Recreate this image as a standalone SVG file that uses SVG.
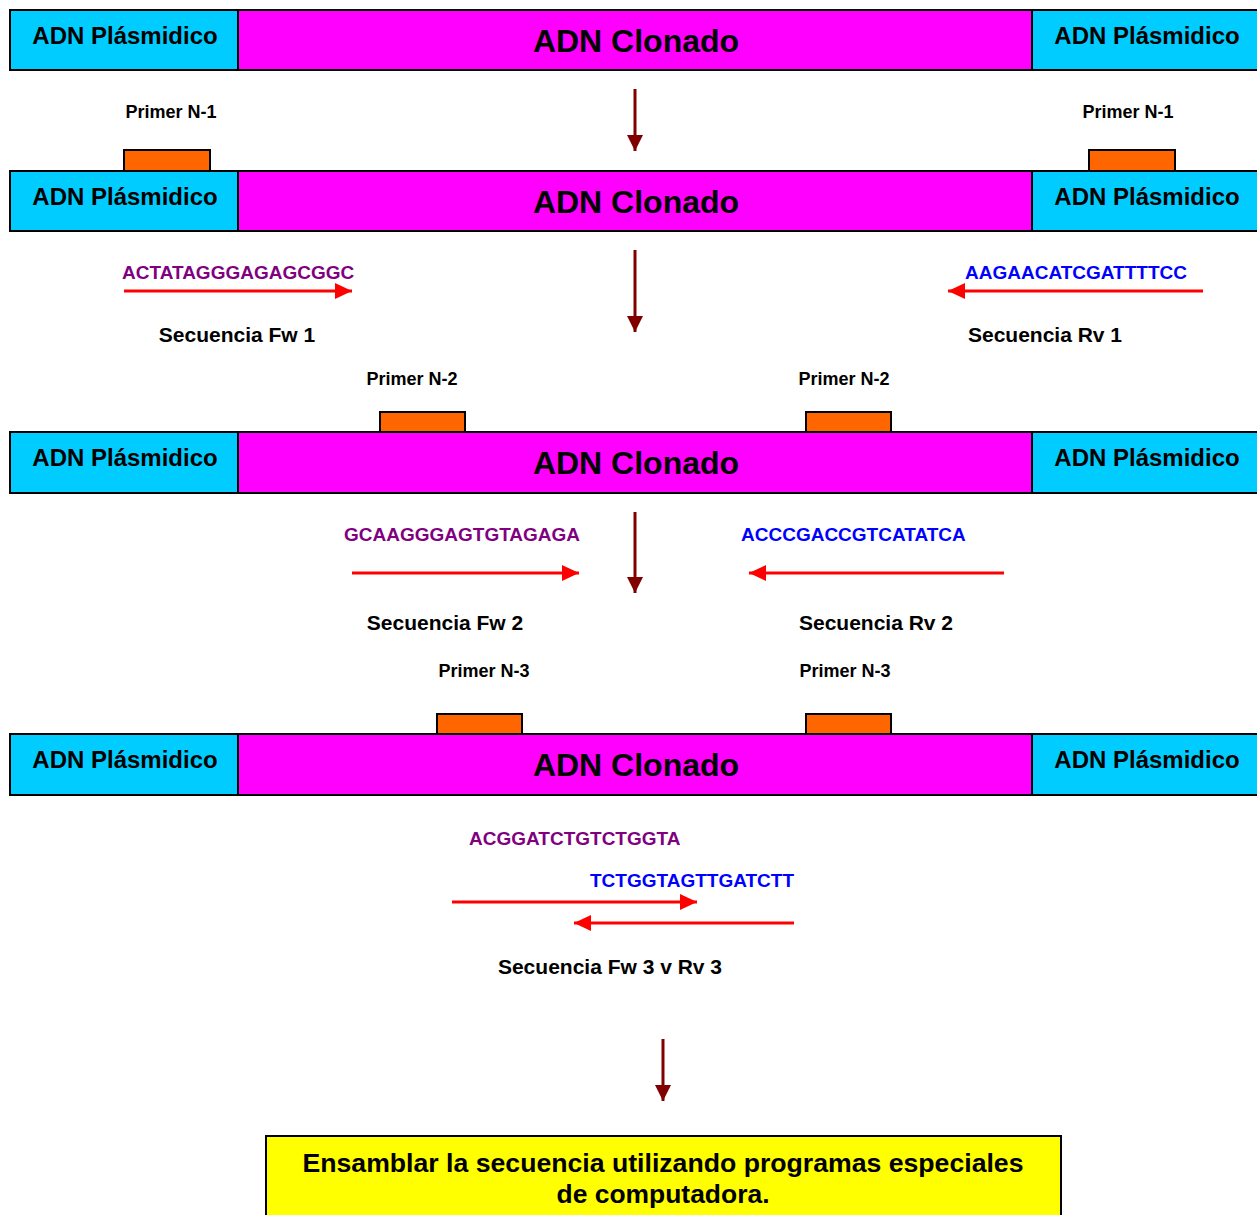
<svg xmlns="http://www.w3.org/2000/svg" width="1257" height="1215" viewBox="0 0 1257 1215">
<style>
.pl{fill:#00CCFF;stroke:#000;stroke-width:2}
.cl{fill:#FF00FF;stroke:#000;stroke-width:2}
.pr{fill:#FF6600;stroke:#000;stroke-width:2}
.tp{font-family:"Liberation Sans",Arial,sans-serif;font-weight:bold;font-size:24px;text-anchor:middle;fill:#000}
.tc{font-family:"Liberation Sans",Arial,sans-serif;font-weight:bold;font-size:32px;text-anchor:middle;fill:#000}
.tl{font-family:"Liberation Sans",Arial,sans-serif;font-weight:bold;font-size:18px;text-anchor:middle;fill:#000}
.ts{font-family:"Liberation Sans",Arial,sans-serif;font-weight:bold;font-size:21px;text-anchor:middle;fill:#000}
.fw{font-family:"Liberation Sans",Arial,sans-serif;font-weight:bold;font-size:19px;fill:#800080}
.rv{font-family:"Liberation Sans",Arial,sans-serif;font-weight:bold;font-size:19px;fill:#0000FF}
.dk{stroke:#800000;stroke-width:3;fill:none;marker-end:url(#hd)}
.rd{stroke:#FF0000;stroke-width:3;fill:none;marker-end:url(#hr)}
</style>
<defs>
<marker id="hd" markerUnits="userSpaceOnUse" markerWidth="16" markerHeight="16" refX="16" refY="8" orient="auto"><path d="M0,0 L16,8 L0,16 Z" fill="#800000"/></marker>
<marker id="hr" markerUnits="userSpaceOnUse" markerWidth="17" markerHeight="16" refX="17" refY="8" orient="auto"><path d="M0,0 L17,8 L0,16 Z" fill="#FF0000"/></marker>
</defs>
<rect width="1257" height="1215" fill="#fff"/>

<g id="bar1">
<rect class="pl" x="10" y="10" width="228" height="60"/>
<rect class="cl" x="238" y="10" width="794" height="60"/>
<rect class="pl" x="1032" y="10" width="230" height="60"/>
<text class="tp" x="125" y="44">ADN Plásmidico</text>
<text class="tc" x="636" y="52">ADN Clonado</text>
<text class="tp" x="1147" y="44">ADN Plásmidico</text>
</g>

<g id="bar2">
<rect class="pr" x="124" y="150" width="86" height="21"/>
<rect class="pr" x="1089" y="150" width="86" height="21"/>
<rect class="pl" x="10" y="171" width="228" height="60"/>
<rect class="cl" x="238" y="171" width="794" height="60"/>
<rect class="pl" x="1032" y="171" width="230" height="60"/>
<text class="tp" x="125" y="205">ADN Plásmidico</text>
<text class="tc" x="636" y="213">ADN Clonado</text>
<text class="tp" x="1147" y="205">ADN Plásmidico</text>
<text class="tl" x="171" y="118">Primer N-1</text>
<text class="tl" x="1128" y="118">Primer N-1</text>
</g>

<g id="bar3">
<rect class="pr" x="380" y="412" width="85" height="20"/>
<rect class="pr" x="806" y="412" width="85" height="20"/>
<rect class="pl" x="10" y="432" width="228" height="61"/>
<rect class="cl" x="238" y="432" width="794" height="61"/>
<rect class="pl" x="1032" y="432" width="230" height="61"/>
<text class="tp" x="125" y="466">ADN Plásmidico</text>
<text class="tc" x="636" y="474">ADN Clonado</text>
<text class="tp" x="1147" y="466">ADN Plásmidico</text>
<text class="tl" x="412" y="385">Primer N-2</text>
<text class="tl" x="844" y="385">Primer N-2</text>
</g>

<g id="bar4">
<rect class="pr" x="437" y="714" width="85" height="20"/>
<rect class="pr" x="806" y="714" width="85" height="20"/>
<rect class="pl" x="10" y="734" width="228" height="61"/>
<rect class="cl" x="238" y="734" width="794" height="61"/>
<rect class="pl" x="1032" y="734" width="230" height="61"/>
<text class="tp" x="125" y="768">ADN Plásmidico</text>
<text class="tc" x="636" y="776">ADN Clonado</text>
<text class="tp" x="1147" y="768">ADN Plásmidico</text>
<text class="tl" x="484" y="677">Primer N-3</text>
<text class="tl" x="845" y="677">Primer N-3</text>
</g>

<g id="seq1">
<text class="fw" x="122" y="279">ACTATAGGGAGAGCGGC</text>
<text class="rv" x="965" y="279">AAGAACATCGATTTTCC</text>
<text class="ts" x="237" y="342">Secuencia Fw 1</text>
<text class="ts" x="1045" y="342">Secuencia Rv 1</text>
</g>
<g id="seq2">
<text class="fw" x="344" y="541">GCAAGGGAGTGTAGAGA</text>
<text class="rv" x="741" y="541">ACCCGACCGTCATATCA</text>
<text class="ts" x="445" y="630">Secuencia Fw 2</text>
<text class="ts" x="876" y="630">Secuencia Rv 2</text>
</g>
<g id="seq3">
<text class="fw" x="469" y="845">ACGGATCTGTCTGGTA</text>
<text class="rv" x="590" y="887">TCTGGTAGTTGATCTT</text>
<text class="ts" x="610" y="974">Secuencia Fw 3 v Rv 3</text>
</g>

<g id="result">
<rect x="266" y="1136" width="795" height="90" fill="#FFFF00" stroke="#000" stroke-width="2"/>
<text x="663" y="1172" font-family="'Liberation Sans',Arial,sans-serif" font-weight="bold" font-size="26" text-anchor="middle" textLength="721" lengthAdjust="spacingAndGlyphs">Ensamblar la secuencia utilizando programas especiales</text>
<text x="663" y="1203" font-family="'Liberation Sans',Arial,sans-serif" font-weight="bold" font-size="26" text-anchor="middle" textLength="213" lengthAdjust="spacingAndGlyphs">de computadora.</text>
</g>

<g id="connectors">
<line class="dk" x1="635" y1="89" x2="635" y2="151"/>
<line class="dk" x1="635" y1="250" x2="635" y2="332"/>
<line class="dk" x1="635" y1="512" x2="635" y2="593"/>
<line class="dk" x1="663" y1="1039" x2="663" y2="1101"/>
<line class="rd" x1="124" y1="291" x2="352" y2="291"/>
<line class="rd" x1="1203" y1="291" x2="948" y2="291"/>
<line class="rd" x1="352" y1="573" x2="579" y2="573"/>
<line class="rd" x1="1004" y1="573" x2="749" y2="573"/>
<line class="rd" x1="452" y1="902" x2="697" y2="902"/>
<line class="rd" x1="794" y1="923" x2="574" y2="923"/>
</g>
</svg>
